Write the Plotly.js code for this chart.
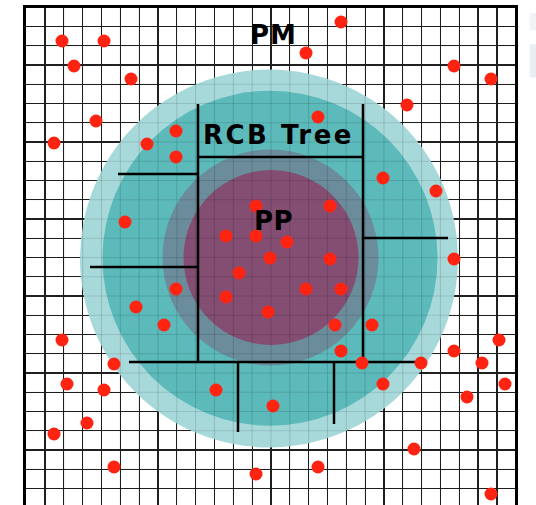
<!DOCTYPE html>
<html>
<head>
<meta charset="utf-8">
<script src="https://cdn.plot.ly/plotly-3.0.1.min.js"></script>
<style>html,body{margin:0;padding:0;background:#fff;}#chart{width:536px;height:505px;}</style>
</head>
<body>
<div id="chart"></div>
<script>
// ---- data (picture units: x to the right, y downward) ----
var dotX = [62, 104, 74, 131, 341, 306, 454, 491, 407, 318, 96, 54, 147, 176, 176,
            383, 436, 125, 256, 330, 226, 256, 287, 270, 330, 454, 239, 176, 226, 306, 341, 136, 268, 164, 335, 372,
            62, 499, 341, 454, 114, 362, 421, 482, 67, 104, 216, 383, 505, 467, 273, 87, 54, 414, 114, 256, 318, 491];
var dotY = [41, 41, 66, 79, 22, 53, 66, 79, 105, 117, 121, 143, 144, 131, 157,
            178, 191, 222, 206, 206, 236, 236, 242, 258, 259, 259, 273, 289, 297, 289, 289, 307, 312, 325, 325, 325,
            340, 340, 351, 351, 364, 363, 363, 363, 384, 390, 390, 384, 384, 397, 406, 423, 434, 449, 467, 474, 467, 494];

var circleNames = ["outer", "middle", "inner", "PP"];
var circleCx = [269, 270, 270.5, 271];
var circleCy = [258.5, 258.2, 257.5, 257.5];
var circleR = [189, 167.5, 108, 87.5];
var circleColors = ["#a8d9da", "#5cbaba", "#6b8c9b", "#834e72"];

var segX0 = [198, 363, 198, 118, 90, 363, 129, 238, 334];
var segY0 = [104, 104, 157, 174, 267, 238, 362, 362, 362];
var segX1 = [198, 363, 363, 198, 198, 448, 416, 238, 334];
var segY1 = [362, 362, 157, 174, 267, 238, 362, 432, 424];

var labelText = ["PM", "RCB Tree", "PP"];
var labelX = [273, 278, 273];
var labelY = [35, 135, 221];
var labelSpacing = [1, 2.5, 0.5];

var gridX0 = 45, gridDX = 18.83, gridY0 = 26.5, gridDY = 19.25;
var xRange = [26, 515], yRange = [505, 8];

// ---- build traces ----
var treeX = [], treeY = [];
for (var i = 0; i < segX0.length; i++) {
  treeX.push(segX0[i], segX1[i], null);
  treeY.push(segY0[i], segY1[i], null);
}
// faint grid that shows through the circles
var fgX = [], fgY = [];
for (var gx = gridX0; gx < xRange[1]; gx += gridDX) { fgX.push(gx, gx, null); fgY.push(yRange[1], yRange[0], null); }
for (var gy = gridY0; gy < yRange[0]; gy += gridDY) { fgX.push(xRange[0], xRange[1], null); fgY.push(gy, gy, null); }

var traces = [
  {x: fgX, y: fgY, mode: "lines", line: {color: "rgba(0,0,0,0.12)", width: 1.2}, hoverinfo: "skip", showlegend: false},
  {x: treeX, y: treeY, mode: "lines", line: {color: "#000", width: 2.5}, hoverinfo: "skip", showlegend: false},
  {x: dotX, y: dotY, mode: "markers", marker: {color: "#ff2412", size: 13, line: {width: 0}}, showlegend: false}
];

var shapes = [];
for (var c = 0; c < circleR.length; c++) {
  shapes.push({type: "circle", xref: "x", yref: "y", layer: "between",
    x0: circleCx[c] - circleR[c], x1: circleCx[c] + circleR[c],
    y0: circleCy[c] - circleR[c], y1: circleCy[c] + circleR[c],
    fillcolor: circleColors[c], line: {width: 0}});
}
// pale tabs at the right edge of the picture
shapes.push({type: "rect", xref: "paper", yref: "paper", x0: 1.03, x1: 1.06, y0: 0.955, y1: 0.99, fillcolor: "#f1f3f7", line: {width: 0}, layer: "above"});
shapes.push({type: "rect", xref: "paper", yref: "paper", x0: 1.03, x1: 1.06, y0: 0.86, y1: 0.927, fillcolor: "#eaedf3", line: {width: 0}, layer: "above"});

var annotations = [];
for (var a = 0; a < labelText.length; a++) {
  annotations.push({x: labelX[a], y: labelY[a], xref: "x", yref: "y",
    text: "<span style=\"letter-spacing:" + labelSpacing[a] + "px\"><b>" + labelText[a] + "</b></span>",
    showarrow: false, xanchor: "center", yanchor: "middle",
    font: {family: "DejaVu Sans", size: 26, color: "#000"}});
}

var layout = {
  width: 536, height: 505,
  margin: {l: 26, r: 21, t: 8, b: 0, pad: 0},
  paper_bgcolor: "#fff", plot_bgcolor: "#fff",
  showlegend: false,
  xaxis: {range: xRange, tickmode: "linear", tick0: gridX0, dtick: gridDX, showgrid: true, gridcolor: "#222", gridwidth: 1.2,
          showticklabels: false, ticks: "", zeroline: false, showline: true, side: "top", linecolor: "#000", linewidth: 3, fixedrange: true},
  yaxis: {range: yRange, tickmode: "linear", tick0: gridY0, dtick: gridDY, showgrid: true, gridcolor: "#222", gridwidth: 1.2,
          showticklabels: false, ticks: "", zeroline: false, showline: true, mirror: true, linecolor: "#000", linewidth: 3, fixedrange: true},
  shapes: shapes,
  annotations: annotations
};

Plotly.newPlot("chart", traces, layout, {staticPlot: true, displayModeBar: false});
</script>
</body>
</html>
